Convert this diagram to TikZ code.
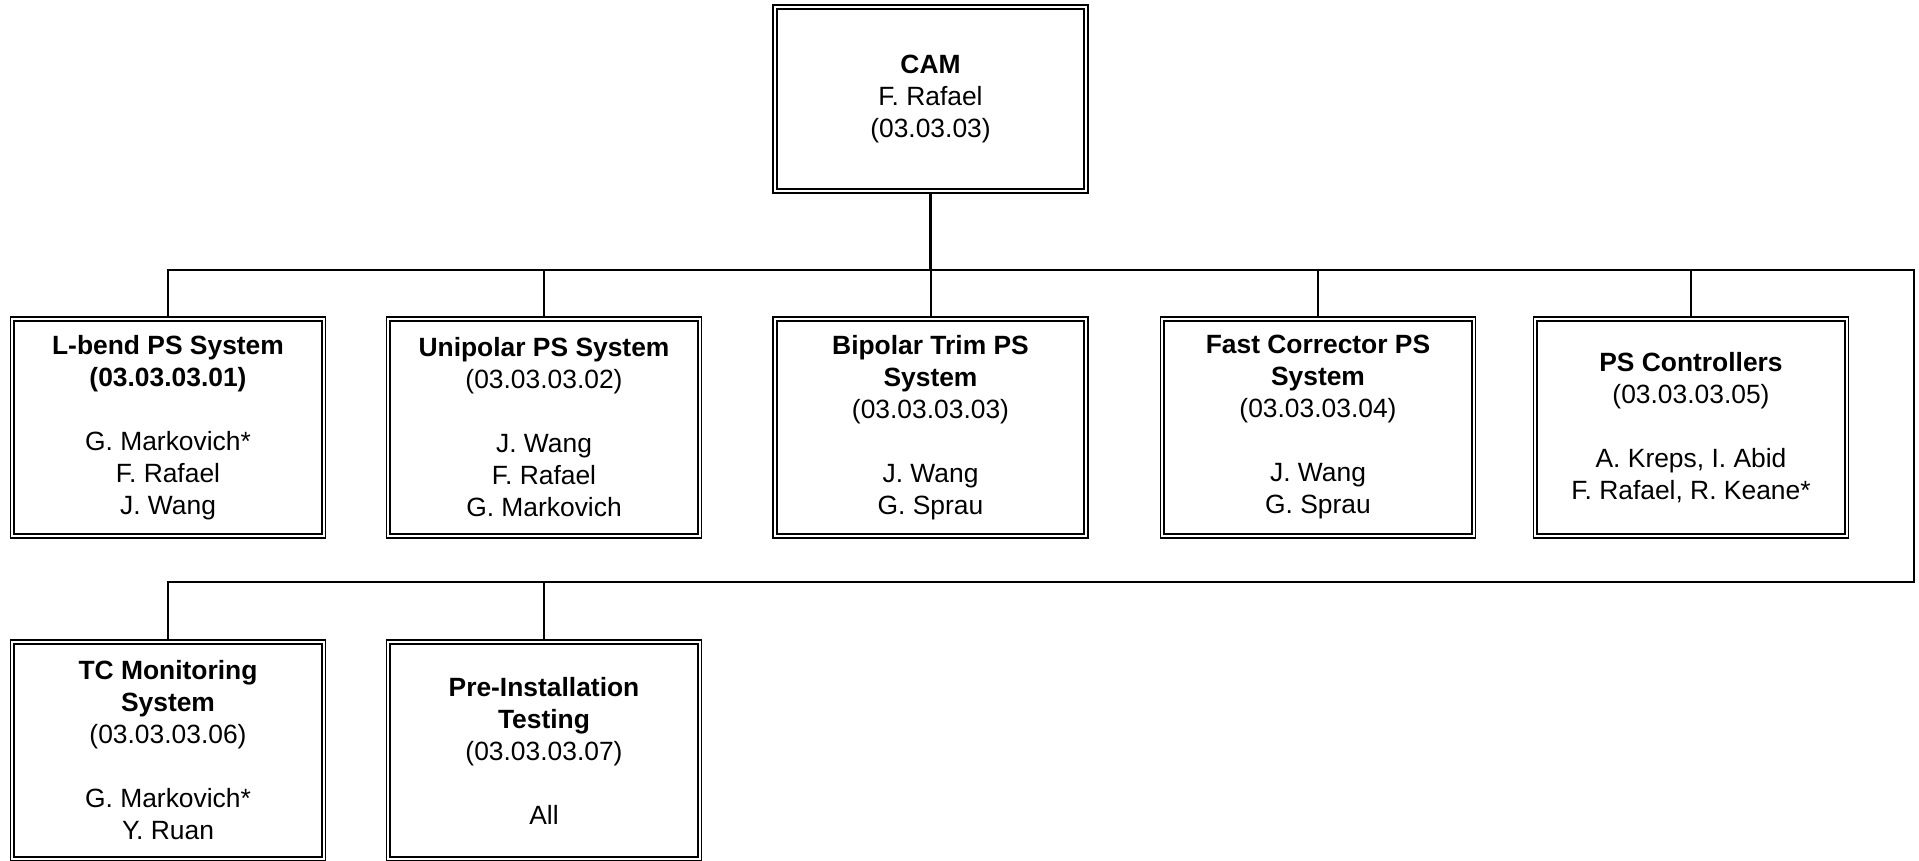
\documentclass[tikz,border=0pt]{standalone}
\usepackage{fontspec}
\setmainfont{Liberation Sans}
\begin{document}
\begin{tikzpicture}[x=1pt,y=1pt,
  wbox/.style={draw=black, line width=0.7pt, minimum width=157.5pt, minimum height=110.5pt,
    inner sep=0pt, align=center, font=\fontsize{13.2}{16}\selectfont},
  inner/.style={draw=black, line width=1.1pt},
  conn/.style={draw=black, line width=1pt}]
\useasboundingbox (0,0) rectangle (959.5,-430.5);
% nodes
\node[wbox, minimum height=94pt] (cam) at (465.25,-49.5) {\textbf{CAM}\\F. Rafael\\(03.03.03)};
\node[wbox] (lb) at (84,-213.75) {\textbf{L-bend PS System}\\\textbf{(03.03.03.01)}\\[16pt]G. Markovich*\\F. Rafael\\J. Wang};
\node[wbox] (up) at (272,-213.75) {\textbf{Unipolar PS System}\\(03.03.03.02)\\[16pt]J. Wang\\F. Rafael\\G. Markovich};
\node[wbox] (bt) at (465.25,-213.75) {\textbf{Bipolar Trim PS}\\\textbf{System}\\(03.03.03.03)\\[16pt]J. Wang\\G. Sprau};
\node[wbox] (fc) at (659,-213.75) {\textbf{Fast Corrector PS}\\\textbf{System}\\(03.03.03.04)\\[16pt]J. Wang\\G. Sprau};
\node[wbox] (pc) at (845.5,-213.75) {\textbf{PS Controllers}\\(03.03.03.05)\\[16pt]A. Kreps, I. Abid\\F. Rafael, R. Keane*};
\node[wbox] (tc) at (84,-375.25) {\textbf{TC Monitoring}\\\textbf{System}\\(03.03.03.06)\\[16pt]G. Markovich*\\Y. Ruan};
\node[wbox] (pi) at (272,-375.25) {\textbf{Pre-Installation}\\\textbf{Testing}\\(03.03.03.07)\\[16pt]All};
% inner lines of double borders
\foreach \n in {cam,lb,up,bt,fc,pc,tc,pi}{
  \draw[inner] ([shift={(2.2pt,2.2pt)}]\n.south west) rectangle ([shift={(-2.2pt,-2.2pt)}]\n.north east);
}
% bus coordinates
\coordinate (bus) at (0,-135);
\coordinate (bus2) at (0,-291);
\coordinate (rgt) at (957,0);
% connectors
\draw[conn, line width=1.5pt] (cam.south) -- (cam.south |- bus);
\draw[conn] (cam.south |- bus) -- (bt.north);
\draw[conn] (lb.north) -- (lb.north |- bus) -- (rgt |- bus) -- (rgt |- bus2) -- (tc.north |- bus2) -- (tc.north);
\draw[conn] (up.north) -- (up.north |- bus);
\draw[conn] (fc.north) -- (fc.north |- bus);
\draw[conn] (pc.north) -- (pc.north |- bus);
\draw[conn] (pi.north) -- (pi.north |- bus2);
\end{tikzpicture}
\end{document}
